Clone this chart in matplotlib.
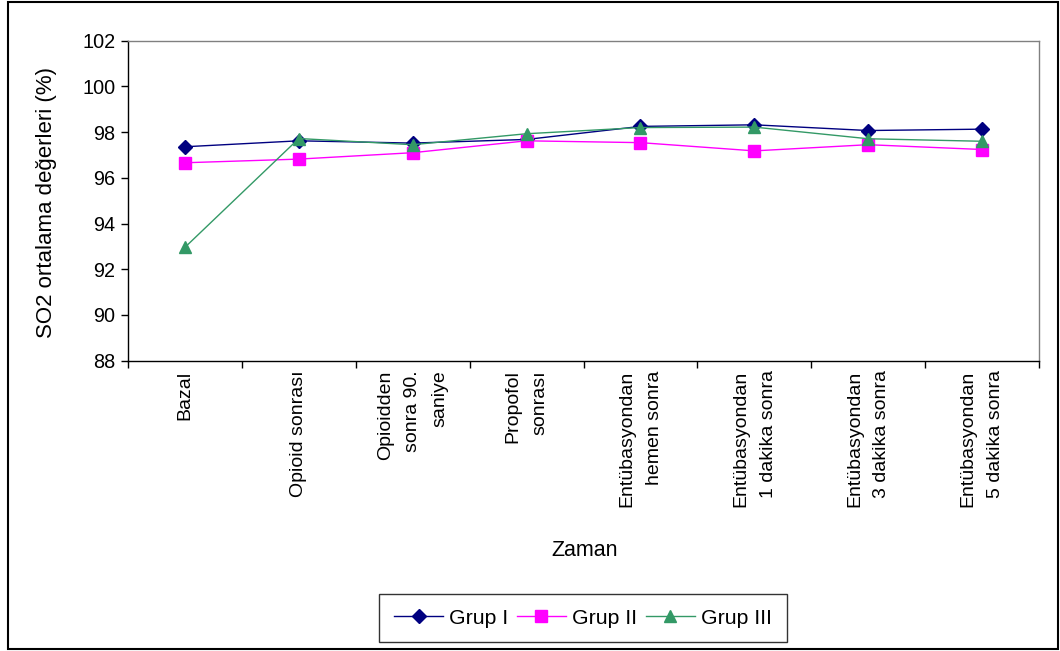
import matplotlib
matplotlib.use("Agg")
import matplotlib.pyplot as plt
from matplotlib.patches import Rectangle

plt.rcParams['font.family'] = ['Liberation Sans', 'DejaVu Sans']

categories = ["Bazal", "Opioid sonrası", "Opioidden\nsonra 90.\nsaniye", "Propofol\nsonrası",
              "Entübasyondan\nhemen sonra", "Entübasyondan\n1 dakika sonra",
              "Entübasyondan\n3 dakika sonra", "Entübasyondan\n5 dakika sonra"]
grup1 = [97.36, 97.62, 97.52, 97.68, 98.25, 98.32, 98.07, 98.13]
grup2 = [96.66, 96.82, 97.10, 97.62, 97.54, 97.18, 97.45, 97.24]
grup3 = [92.96, 97.72, 97.45, 97.93, 98.20, 98.22, 97.71, 97.60]
series_names = ["Grup I", "Grup II", "Grup III"]
yticks = [88, 90, 92, 94, 96, 98, 100, 102]

W, H = 1060, 651
fig = plt.figure(figsize=(W / 100, H / 100), dpi=100)
ax = fig.add_axes([128 / W, (H - 360.7) / H, (1039 - 128) / W, (360.7 - 40.7) / H])

x = [i + 0.5 for i in range(len(categories))]
ax.plot(x, grup1, color="#000080", marker="D", markersize=7, lw=1, label=series_names[0])
ax.plot(x, grup2, color="#FF00FF", marker="s", markersize=9, lw=1, label=series_names[1])
ax.plot(x, grup3, color="#339966", marker="^", markersize=9, lw=1, label=series_names[2])

ax.set_xlim(0, len(categories))
ax.set_ylim(88, 102)
ax.set_yticks(yticks)
ax.set_yticklabels([str(v) for v in yticks], fontsize=14.3)
ax.tick_params(axis='y', direction='out', length=5, width=1, pad=4)

ax.set_xticks(x)
ax.tick_params(axis='x', which='major', length=0, pad=7)
ax.set_xticks(range(len(categories) + 1), minor=True)
ax.tick_params(axis='x', which='minor', direction='out', length=5, width=1)
ax.set_xticklabels(categories, rotation=90, fontsize=14, va='top', ha='center',
                   multialignment='right')
for t in ax.get_xticklabels():
    t.set_linespacing(1.8)

for s in ['left', 'bottom']:
    ax.spines[s].set_color('black')
    ax.spines[s].set_linewidth(1)
for s in ['top', 'right']:
    ax.spines[s].set_color('#808080')
    ax.spines[s].set_linewidth(1)

fig.text(47 / W, (H - 202) / H, "SO2 ortalama değerleri (%)", fontsize=16,
         rotation=90, ha='center', va='center')
fig.text(585 / W, (H - 550) / H, "Zaman", fontsize=15.5, ha='center', va='center')

leg = fig.legend(loc='center', bbox_to_anchor=(583 / W, (H - 618) / H), ncol=3,
                 fontsize=15.3, frameon=True, fancybox=False, edgecolor='black',
                 handlelength=2.3, columnspacing=0.4, handletextpad=0.3, borderpad=0.7,
                 borderaxespad=0)
leg.get_frame().set_linewidth(1)

fig.patches.append(Rectangle((8 / W, 2 / H), 1050 / W, 647 / H, transform=fig.transFigure,
                             fill=False, edgecolor='black', linewidth=1.5))

fig.savefig("out.png", dpi=100)
